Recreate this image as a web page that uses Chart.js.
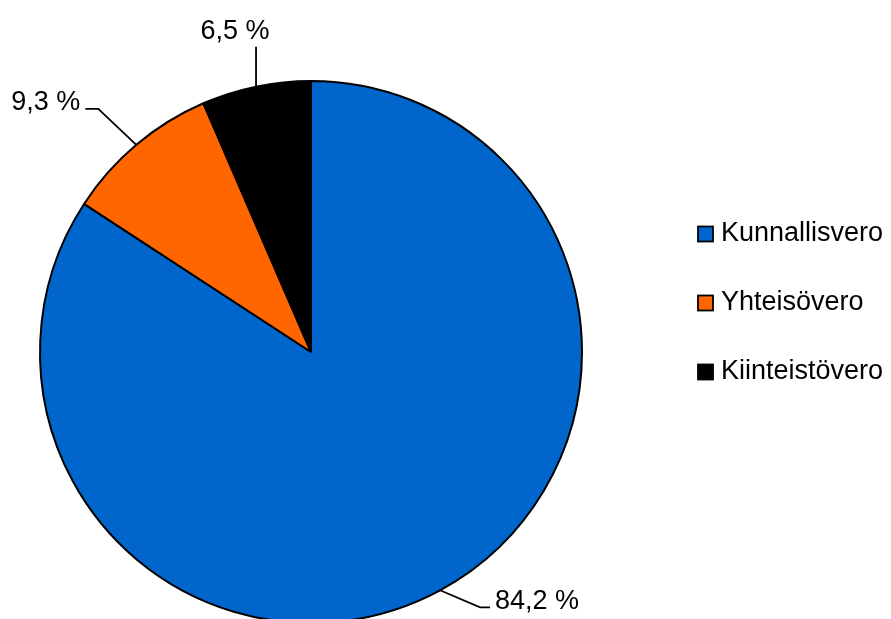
<!DOCTYPE html>
<html>
<head>
<meta charset="utf-8">
<script src="https://cdn.jsdelivr.net/npm/chart.js@4.4.0/dist/chart.umd.min.js"></script>
<style>
  html, body { margin: 0; padding: 0; background: #fff; }
  #wrap { width: 891px; height: 619px; overflow: hidden; position: relative; }
  canvas { display: block; }
</style>
</head>
<body>
<div id="wrap"><canvas id="veroChart" width="891" height="640"></canvas></div>
<script>
// ========== DATA ==========
const categories = ["Kunnallisvero", "Yhteisövero", "Kiinteistövero"];
const shares = [84.2, 9.3, 6.5];
const sliceColors = ["#0066CC", "#FF6600", "#000000"];

// leader line: first leg (dx, dy) from slice edge, then horizontal leg, text side
const leaders = [
    { dx: 40, dy: 17, hx: 10, align: "left" },
    { dx: -38, dy: -36, hx: -13, align: "right" },
    { dx: 0, dy: -40, hx: 0, align: "center" }
];

const FONT = '27px "Liberation Sans", Arial, sans-serif';

const fmt = v => v.toFixed(1).replace(".", ",") + " %";

// ========== LABELS + LEGEND PLUGIN ==========
const labelPlugin = {
    id: "pieLabels",
    afterDraw(chart) {
        const ctx = chart.ctx;
        const meta = chart.getDatasetMeta(0);
        ctx.save();
        ctx.font = FONT;
        ctx.fillStyle = "#000";
        ctx.strokeStyle = "#000";
        ctx.lineWidth = 1.8;

        meta.data.forEach((arc, i) => {
            const mid = (arc.startAngle + arc.endAngle) / 2;
            const r = arc.outerRadius;
            const x0 = arc.x + Math.cos(mid) * r;
            const y0 = arc.y + Math.sin(mid) * r;
            const L = leaders[i];
            const x1 = x0 + L.dx, y1 = y0 + L.dy;
            const x2 = x1 + L.hx;
            ctx.beginPath();
            ctx.moveTo(x0, y0);
            ctx.lineTo(x1, y1);
            ctx.lineTo(x2, y1);
            ctx.stroke();

            ctx.textAlign = L.align;
            if (L.align === "center") {
                ctx.textBaseline = "bottom";
                ctx.fillText(fmt(shares[i]), x2 - 21, y1 - 2);
            } else {
                ctx.textBaseline = "middle";
                ctx.fillText(fmt(shares[i]), x2 + (L.align === "left" ? 5 : -5), y1 - 6);
            }
        });

        // legend
        const lx = 698, ly = 234, gap = 69, box = 15;
        ctx.textAlign = "left";
        ctx.textBaseline = "middle";
        categories.forEach((name, i) => {
            const y = ly + i * gap;
            ctx.fillStyle = sliceColors[i];
            ctx.fillRect(lx, y - box / 2, box, box);
            ctx.lineWidth = 1.8;
            ctx.strokeRect(lx, y - box / 2, box, box);
            ctx.fillStyle = "#000";
            ctx.fillText(name, lx + box + 8, y);
        });
        ctx.restore();
    }
};

document.addEventListener("DOMContentLoaded", () => {
    new Chart(document.getElementById("veroChart").getContext("2d"), {
        type: "pie",
        data: {
            labels: categories,
            datasets: [
                {
                    data: shares,
                    backgroundColor: sliceColors,
                    borderColor: "#000",
                    borderWidth: 2
                }
            ]
        },
        options: {
            responsive: false,
            animation: false,
            layout: { padding: { left: 39, top: 80, right: 308, bottom: 16 } },
            plugins: { legend: { display: false }, tooltip: { enabled: false } }
        },
        plugins: [labelPlugin]
    });
});
</script>
</body>
</html>
